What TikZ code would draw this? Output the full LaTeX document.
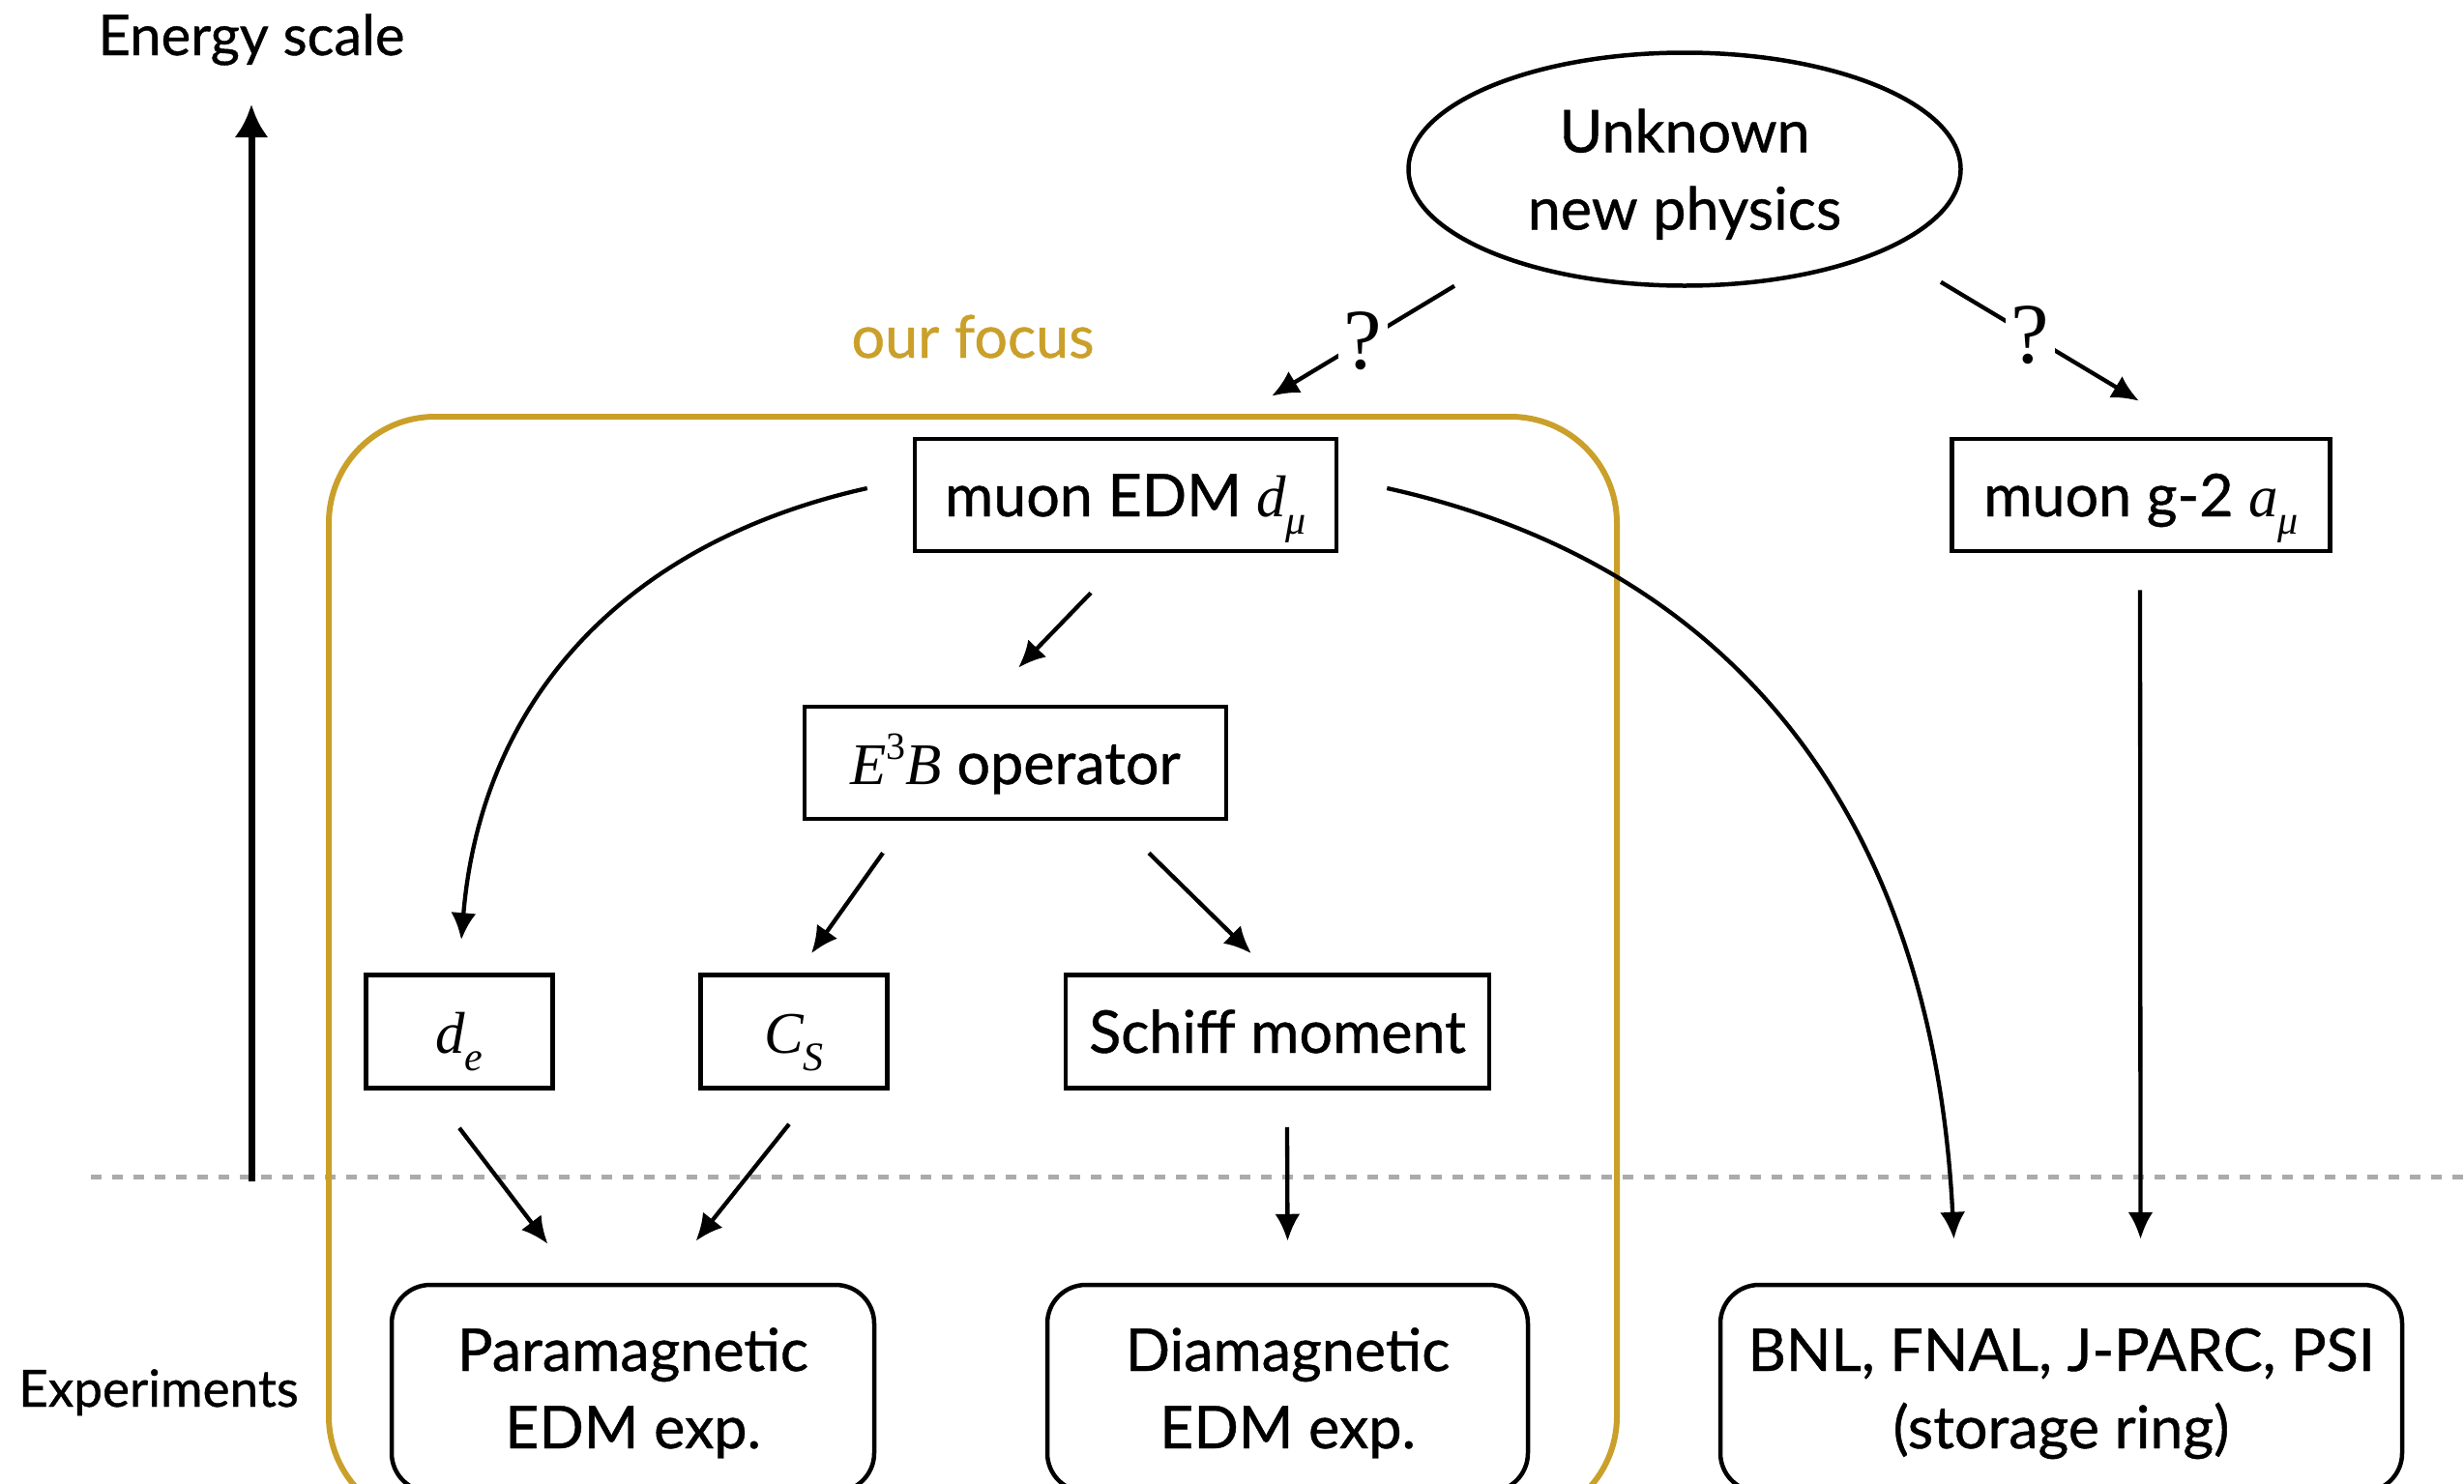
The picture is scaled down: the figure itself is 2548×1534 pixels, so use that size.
\documentclass[tikz,border=0pt]{standalone}
\usepackage{fontspec}
\setmainfont{Lato}[FakeBold=0.7]
\newfontfamily\tm{Liberation Serif}
\usetikzlibrary{arrows.meta,calc,shapes.geometric}
\definecolor{focusgold}{RGB}{202,160,42}
\definecolor{dashgray}{RGB}{170,172,172}
\newcommand\mi[1]{{\tm\itshape #1}}
\newcommand\msub[1]{\raisebox{-0.3em}{\fontsize{42}{42}\selectfont\tm\itshape #1}}
\begin{document}
\begin{tikzpicture}[x=1pt,y=-1pt,
  txt/.style={font=\fontsize{61}{80}\selectfont},
  box/.style={txt,draw,line width=4.5pt,inner sep=0pt,text height=44pt,text depth=0pt},
  expbox/.style={txt,draw,line width=4.5pt,rounded corners=40pt,inner sep=0pt,align=center,
     text height=124pt,text depth=0pt,minimum height=214,minimum width=#1},
  arr/.style={line width=4.3pt,-{Latex[length=28pt,width=26pt]}},
  qlab/.style={font=\fontsize{89}{89}\selectfont\tm,fill=white,inner sep=6pt}]
\clip (0,0) rectangle (2548,1534);
\useasboundingbox (0,0) rectangle (2548,1534);
\fill[white] (0,0) rectangle (2548,1534);
% dashed separation line
\coordinate (dl) at (94,1217);
\coordinate (dr) at (2548,1217);
\draw[dashgray,line width=5pt,dash pattern=on 11pt off 11pt] (dl) -- (dr);
% focus box
\node[draw=focusgold,line width=6pt,rounded corners=110pt,minimum width=1332,minimum height=1144,inner sep=0pt] (focus) at (1006,1003) {};
\node[txt,text=focusgold,anchor=base] (ourfocus) at (1006,370) {our focus};
% energy axis
\coordinate (ebot) at (260,1222);
\coordinate (etop) at (260,108);
\draw[line width=7pt,-{Latex[length=34pt,width=35pt]}] (ebot) -- (etop);
\node[font=\fontsize{58}{70}\selectfont,anchor=base] (escale) at (260,57) {Energy scale};
\node[font=\fontsize{53}{70}\selectfont,anchor=base] (exps) at (164,1455) {Experiments};
% nodes
\node[txt,draw,ellipse,line width=4.5pt,inner sep=0pt,align=center,text height=125pt,text depth=0pt,
      minimum width=571,minimum height=241] (np) at (1742,175) {Unknown\\new physics};
\node[box,minimum width=436,minimum height=116] (mu) at (1164,512) {muon EDM \mi{d}\msub{μ}};
\node[box,minimum width=391,minimum height=116] (g2) at (2214,512) {muon g-2 \mi{a}\msub{μ}};
\node[box,minimum width=436,minimum height=116] (e3b) at (1050,789)
   {\mi{E}\raisebox{0.42em}{\fontsize{40}{40}\selectfont\tm 3}\mi{B} operator};
\node[box,minimum width=193,minimum height=117] (de) at (475,1067) {\mi{d}\msub{e}};
\node[box,minimum width=193,minimum height=117] (cs) at (821,1067) {\mi{C}\msub{S}};
\node[box,minimum width=438,minimum height=117] (schiff) at (1321,1067) {Schiff moment};
\node[expbox=499] (para) at (654.5,1436) {Paramagnetic\\EDM exp.};
\node[expbox=497] (dia) at (1331.5,1436) {Diamagnetic\\EDM exp.};
\node[expbox=705] (bnl) at (2131.5,1436) {BNL, FNAL, J-PARC, PSI\\(storage ring)};
% connectors
\draw[arr] ($(np.south)+(-238,-2)$) -- node[qlab,pos=0.5] (q1) {?} ($(mu.north)+(151,-42)$);
\draw[arr] ($(np.south)+(265,-6)$) -- node[qlab,pos=0.45] (q2) {?} ($(g2.north)+(-2,-37)$);
\draw[arr] ($(mu.south)+(-36,41)$) -- ($(e3b.north)+(3,-38)$);
\draw[arr] ($(e3b.south)+(-137,33)$) -- ($(cs.north)+(18,-20)$);
\draw[arr] ($(e3b.south)+(138,33)$) -- ($(schiff.north)+(-27,-20)$);
\draw[arr] ($(de.south)+(0,39)$) -- ($(para.north)+(-88,-40)$);
\draw[arr] ($(cs.south)+(-5,35)$) -- ($(para.north)+(65,-43)$);
\draw[arr] ($(schiff.south)+(10,38)$) -- ($(dia.north)+(0,-43)$);
\draw[arr] ($(g2.south)+(-1,38)$) -- ($(bnl.north)+(82,-45)$);
\draw[arr] ($(mu.west)+(-47,-7)$) .. controls +(-247,55) and +(21,-252) .. ($(de.north)+(2,-34)$);
\draw[arr] ($(mu.east)+(50,-7)$) .. controls +(385,85) and +(-20,-405) .. ($(bnl.north)+(-111,-45)$);
\end{tikzpicture}
\end{document}
